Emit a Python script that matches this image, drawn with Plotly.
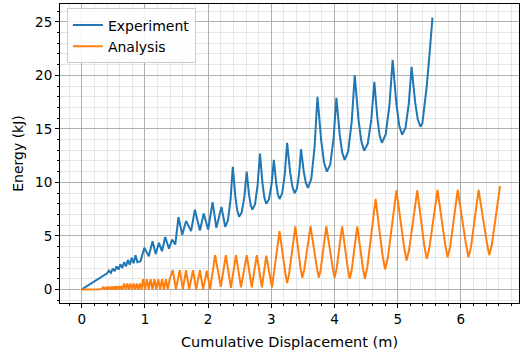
import plotly.graph_objects as go

# Experiment curve (cumulative displacement m, energy kJ)
exp_x = [0, 0.1, 0.2, 0.3, 0.4,
         0.43, 0.46, 0.49, 0.52, 0.55, 0.58, 0.61, 0.64, 0.67, 0.70, 0.73, 0.76, 0.79, 0.82, 0.85, 0.88,
         0.93, 0.99, 1.06, 1.12, 1.17, 1.22, 1.27, 1.32, 1.38, 1.43, 1.48, 1.53, 1.59, 1.65, 1.73, 1.79,
         1.87, 1.93, 2.0, 2.07, 2.13, 2.21, 2.27,
         2.312, 2.354, 2.39, 2.43, 2.46, 2.49, 2.532, 2.574, 2.61, 2.646, 2.673, 2.70,
         2.742, 2.784, 2.82, 2.86, 2.89, 2.92, 2.962, 3.004, 3.04, 3.076, 3.103, 3.13,
         3.172, 3.214, 3.25, 3.298, 3.334, 3.37, 3.405, 3.44, 3.47, 3.514, 3.547, 3.58,
         3.633, 3.685, 3.73, 3.79, 3.835, 3.88, 3.933, 3.985, 4.03, 4.082, 4.121, 4.16,
         4.216, 4.272, 4.32, 4.38, 4.425, 4.47, 4.526, 4.582, 4.63, 4.678, 4.714, 4.75,
         4.81, 4.869, 4.92, 4.98, 5.025, 5.07, 5.123, 5.175, 5.22, 5.276, 5.318, 5.36,
         5.39, 5.41, 5.46, 5.51, 5.55]
exp_y = [0, 0.38, 0.77, 1.13, 1.5,
         1.75, 1.55, 1.95, 1.7, 2.15, 1.85, 2.35, 2.0, 2.55, 2.15, 2.75, 2.3, 2.95, 2.45, 3.2, 2.55,
         2.64, 3.9, 3.1, 4.5, 3.3, 4.35, 3.57, 4.9, 3.8, 4.66, 4.2, 6.75, 5.1, 6.4, 5.45, 7.45,
         5.5, 7.1, 5.6, 8.15, 5.75, 7.7, 5.85,
         6.41, 8.37, 11.45, 8.71, 7.36, 6.8, 7.22, 8.69, 11.0, 8.91, 7.88, 7.45,
         7.97, 9.81, 12.7, 9.93, 8.56, 8.0, 8.41, 9.85, 12.1, 9.95, 8.89, 8.45,
         8.98, 10.81, 13.7, 10.93, 9.56, 9.0, 9.41, 10.85, 13.1, 10.98, 9.93, 9.5,
         10.35, 13.33, 18.0, 13.87, 11.84, 11.0, 11.69, 14.1, 17.9, 14.48, 12.8, 12.1,
         12.89, 15.66, 20.0, 15.85, 13.81, 12.97, 13.61, 15.86, 19.4, 16.04, 14.38, 13.7,
         14.48, 17.19, 21.45, 17.32, 15.29, 14.45, 15.09, 17.31, 20.8, 17.5, 15.87, 15.2,
         15.5, 16.5, 19.0, 22.4, 25.4]

# Analysis curve
ana_x = [0, 0.3,
         0.34, 0.36, 0.38, 0.40, 0.42, 0.44, 0.46, 0.48, 0.50, 0.52, 0.54, 0.56, 0.58, 0.60, 0.62, 0.645,
         0.67, 0.695, 0.72, 0.745, 0.77, 0.795, 0.82, 0.845, 0.87, 0.895, 0.92, 0.945,
         0.97, 1.0, 1.03, 1.06, 1.09, 1.12, 1.15, 1.18, 1.21, 1.24, 1.27, 1.30, 1.33, 1.36, 1.39,
         1.44, 1.49, 1.55, 1.60, 1.65, 1.70, 1.76, 1.81, 1.87, 1.92, 1.98, 2.03,
         2.11, 2.20, 2.28, 2.36, 2.44, 2.52, 2.61, 2.69, 2.77, 2.85, 2.92, 3.01,
         3.13, 3.22, 3.25, 3.28, 3.38, 3.46, 3.49, 3.52, 3.62, 3.72, 3.75, 3.78, 3.87, 3.97, 4.0, 4.03,
         4.12, 4.21, 4.24, 4.27, 4.36, 4.45, 4.48, 4.52,
         4.65, 4.76, 4.80, 4.845, 4.98, 5.10, 5.14, 5.18, 5.31, 5.42, 5.46, 5.50,
         5.63, 5.75, 5.79, 5.83, 5.95, 6.08, 6.12, 6.16, 6.28, 6.41, 6.45, 6.49, 6.62]
ana_y = [0, 0.02,
         0.2, 0, 0.22, 0, 0.25, 0, 0.25, 0, 0.27, 0, 0.28, 0, 0.3, 0, 0.3, 0,
         0.55, 0, 0.55, 0, 0.55, 0, 0.55, 0, 0.55, 0, 0.55, 0,
         0.95, 0, 0.95, 0, 0.95, 0, 0.95, 0, 0.95, 0, 0.95, 0, 0.95, 0, 0.95,
         1.8, 0, 1.8, 0, 1.8, 0, 1.8, 0, 1.8, 0, 1.75, 0,
         3.2, 0.25, 3.2, 0.15, 3.2, 0.2, 3.2, 0.2, 3.2, 0.2, 3.15, 0.2,
         5.45, 1.57, 0.6, 1.4, 5.9, 2.06, 1.1, 1.82, 5.9, 2.06, 1.1, 1.82, 5.9, 2.06, 1.1, 1.82,
         5.9, 1.98, 1.0, 1.74, 5.9, 1.98, 1.0, 2.12,
         8.45, 3.19, 1.87, 2.98, 9.25, 4.01, 2.7, 3.68, 9.25, 4.13, 2.85, 3.82,
         9.3, 4.26, 3.0, 3.95, 9.3, 4.26, 3.0, 3.95, 9.3, 4.42, 3.2, 4.17, 9.65]

x_ticks = [0, 1, 2, 3, 4, 5, 6]
y_ticks = [0, 5, 10, 15, 20, 25]

FONT = "DejaVu Sans, Arial, sans-serif"

fig = go.Figure()
fig.add_trace(go.Scatter(x=exp_x, y=exp_y, mode="lines", name="Experiment",
                         line=dict(color="#1f77b4", width=2)))
fig.add_trace(go.Scatter(x=ana_x, y=ana_y, mode="lines", name="Analysis",
                         line=dict(color="#ff7f0e", width=2)))

axis_common = dict(
    showline=True, linecolor="black", linewidth=1, mirror=True,
    ticks="outside", ticklen=4, tickcolor="black", tickwidth=1,
    showgrid=True, gridcolor="#b0b0b0", gridwidth=1,
    zeroline=False,
    tickfont=dict(family=FONT, size=13.5, color="black"),
)

fig.update_xaxes(**axis_common, range=[-0.345, 6.92], tickvals=x_ticks,
                 ticktext=[str(v) for v in x_ticks],
                 minor=dict(dtick=0.2, tick0=0, ticks="outside", ticklen=2, tickcolor="black",
                            showgrid=True, gridcolor="#e6e6e6", gridwidth=1),
                 title=dict(text="Cumulative Displacement (m)",
                            font=dict(family=FONT, size=14.5, color="black"), standoff=10))
fig.update_yaxes(**axis_common, range=[-1.27, 26.67], tickvals=y_ticks,
                 ticktext=[str(v) for v in y_ticks],
                 minor=dict(dtick=1, tick0=0, ticks="outside", ticklen=2, tickcolor="black",
                            showgrid=True, gridcolor="#e6e6e6", gridwidth=1),
                 title=dict(text="Energy (kJ)",
                            font=dict(family=FONT, size=14, color="black"), standoff=8))

fig.update_layout(
    width=521, height=350,
    margin=dict(l=60, r=2, t=4, b=47),
    plot_bgcolor="white", paper_bgcolor="white",
    font=dict(family=FONT, size=13, color="black"),
    legend=dict(x=0.015, y=0.985, xanchor="left", yanchor="top",
                bgcolor="rgba(255,255,255,0.85)", bordercolor="#cccccc", borderwidth=1,
                font=dict(family=FONT, size=14, color="black"),
                tracegroupgap=0, itemwidth=30),
    showlegend=True,
)

fig.write_html("out.html")
